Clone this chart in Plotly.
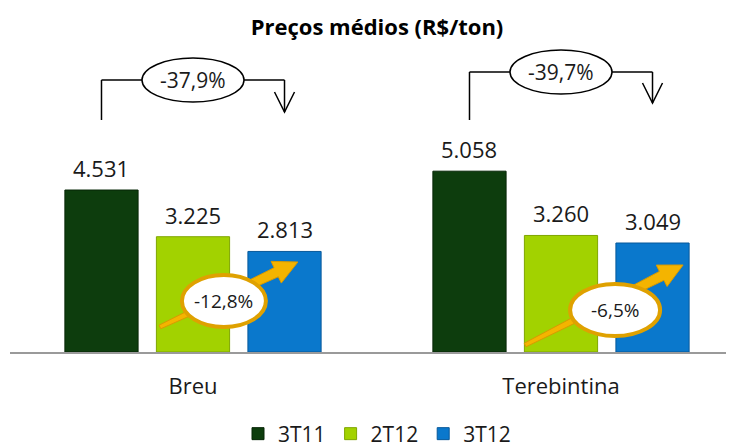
import numpy as np
import plotly.graph_objects as go

# data
categories = ["Breu", "Terebintina"]
series_names = ["3T11", "2T12", "3T12"]
precos_3t11 = [4531, 5058]
precos_2t12 = [3225, 3260]
precos_3t12 = [2813, 3049]
var_anual = ["-37,9%", "-39,7%"]
var_trimestral = ["-12,8%", "-6,5%"]

colors = ["#0d3d0d", "#a2d200", "#0a78cc"]
edge_colors = ["#062606", "#7fa600", "#07599a"]

FONT = "Open Sans"
BARGAP = 0.254
slot = (1 - BARGAP) / 3

fig = go.Figure()
all_series = [precos_3t11, precos_2t12, precos_3t12]
for name, vals, c, ec in zip(series_names, all_series, colors, edge_colors):
    fig.add_trace(go.Bar(
        x=categories, y=vals, name=name,
        marker=dict(color=c, line=dict(color=ec, width=1)),
    ))

annotations = []
shapes = []

# value labels above the bars
for k, vals in enumerate(all_series):
    for i, v in enumerate(vals):
        annotations.append(dict(
            x=i + (k - 1) * slot, y=v, xref="x", yref="y",
            text=f"{v:,}".replace(",", "."), showarrow=False,
            yshift=22, yanchor="middle",
            font=dict(family=FONT, size=22, color="#1a1a1a"),
        ))

# brackets with yearly change (3T11 -> 3T12)
bracket_bottom = 6490
bracket_top = [7608, 7832]
bracket_tip = [6713, 6965]
for i in range(len(categories)):
    xl = i - slot
    xr = i + slot
    line = dict(color="black", width=1.5)
    shapes.append(dict(type="line", xref="x", yref="y", x0=xl, x1=xl,
                       y0=bracket_bottom, y1=bracket_top[i], line=line))
    shapes.append(dict(type="line", xref="x", yref="y", x0=xl, x1=xr,
                       y0=bracket_top[i], y1=bracket_top[i], line=line))
    shapes.append(dict(type="line", xref="x", yref="y", x0=xr, x1=xr,
                       y0=bracket_top[i], y1=bracket_tip[i], line=line))
    shapes.append(dict(type="path", xref="x", yref="y",
                       xsizemode="pixel", ysizemode="pixel",
                       xanchor=xr, yanchor=bracket_tip[i],
                       path="M -10 20 L 0 0 L 10 20", line=line))
    shapes.append(dict(type="circle", xref="x", yref="y",
                       xsizemode="pixel", ysizemode="pixel",
                       xanchor=i, yanchor=bracket_top[i],
                       x0=-51, x1=51, y0=-22, y1=22,
                       fillcolor="white", line=line))
    annotations.append(dict(x=i, y=bracket_top[i], xref="x", yref="y",
                            text=var_anual[i], showarrow=False,
                            font=dict(family=FONT, size=21, color="#1a1a1a")))

# orange arrows with quarterly change (2T12 -> 3T12)
oval_x = [0.084, 1.147]
oval_y = [1427, 1175]
oval_half = [(42, 26), (45, 26)]
arrow_tail = [(-64, -26), (-90, -35)]
arrow_tip = [(74, 39), (68, 45)]


def arrow_path(tail, tip, head_len=24, head_w=12, w0=2, w1=5):
    tail = np.array(tail, float)
    tip = np.array(tip, float)
    u = (tip - tail) / np.linalg.norm(tip - tail)
    n = np.array([-u[1], u[0]])
    base = tip - u * head_len
    pts = [tail + n * w0, base + n * w1, base + n * head_w, tip,
           base - n * head_w, base - n * w1, tail - n * w0]
    return "M " + " L ".join(f"{p[0]:.1f} {p[1]:.1f}" for p in pts) + " Z"


for i in range(len(categories)):
    shapes.append(dict(type="path", xref="x", yref="y",
                       xsizemode="pixel", ysizemode="pixel",
                       xanchor=oval_x[i], yanchor=oval_y[i],
                       path=arrow_path(arrow_tail[i], arrow_tip[i]),
                       fillcolor="#f4b400", line=dict(color="#d99a00", width=1)))
    hx, hy = oval_half[i]
    shapes.append(dict(type="circle", xref="x", yref="y",
                       xsizemode="pixel", ysizemode="pixel",
                       xanchor=oval_x[i], yanchor=oval_y[i],
                       x0=-hx, x1=hx, y0=-hy, y1=hy,
                       fillcolor="white", line=dict(color="#dfa100", width=4)))
    annotations.append(dict(x=oval_x[i], y=oval_y[i], xref="x", yref="y",
                            text=var_trimestral[i], showarrow=False,
                            font=dict(family=FONT, size=19, color="#1a1a1a")))

# the page puts the plot 8px from the top-left corner, so targets are shifted by 8
fig.update_layout(
    width=734, height=448, autosize=False,
    margin=dict(l=2, r=0, t=32, b=104),
    paper_bgcolor="white", plot_bgcolor="white",
    barmode="group", bargap=BARGAP, bargroupgap=0.2,
    title=dict(text="<b>Preços médios (R$/ton)</b>", x=369 / 734, xanchor="center",
               xref="container", y=1 - 19 / 448, yanchor="middle", yref="container",
               font=dict(family=FONT, size=22, color="black")),
    font=dict(family=FONT, color="#1a1a1a"),
    showlegend=True,
    legend=dict(orientation="h", x=369 / 734, xanchor="center", xref="container",
                y=1 - 426 / 448, yanchor="middle", yref="container",
                font=dict(family=FONT, size=21, color="#1a1a1a"),
                itemwidth=30, traceorder="normal"),
    xaxis=dict(range=[-(185 - 2) / 368, (734 - 185) / 368],
               showline=True, linecolor="#9a9a9a", linewidth=2,
               ticks="outside", ticklen=14, tickcolor="rgba(0,0,0,0)",
               tickfont=dict(family=FONT, size=22, color="#1a1a1a"),
               showgrid=False, zeroline=False),
    yaxis=dict(range=[0, 312 / 0.03575], visible=False, showgrid=False, zeroline=False),
    shapes=shapes,
    annotations=annotations,
)

fig.write_html("out.html")
